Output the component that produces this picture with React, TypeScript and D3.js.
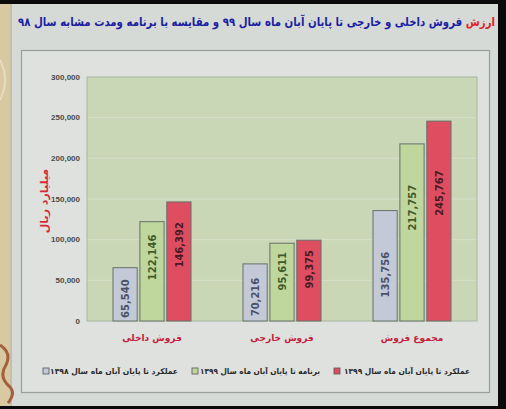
import React from "react";
import * as d3 from "d3";

const title = "ارزش فروش داخلی و خارجی تا پایان آبان ماه سال ۹۹ و مقایسه با برنامه ومدت مشابه سال ۹۸";
const titleRedWord = "ارزش";
const yAxisTitle = "میلیارد ریال";
const categories = ["فروش داخلی", "فروش خارجی", "مجموع فروش"];
const seriesNames = [
  "عملکرد تا پایان آبان ماه سال ۱۳۹۸",
  "برنامه تا پایان آبان ماه سال ۱۳۹۹",
  "عملکرد تا پایان آبان ماه سال ۱۳۹۹",
];
const perf1398 = [65540, 70216, 135756];
const plan1399 = [122146, 95611, 217757];
const perf1399 = [146392, 99375, 245767];
const yTicks = [0, 50000, 100000, 150000, 200000, 250000, 300000];

const seriesValues = [perf1398, plan1399, perf1399];
const fills = ["#c3c9d7", "#bfd79d", "#de4e60"];
const labelColors = ["#4b5268", "#3f5b2b", "#4a1a22"];
const labelFrac = [0.42, 0.64, 0.64];

const W = 506;
const H = 409;
const plot = { left: 87, right: 477, top: 77, bottom: 321 };

// legend layout: [series index, square left, text left, text right]
const legendLayout = [
  [2, 334, 344, 470],
  [1, 192, 200, 320],
  [0, 43, 50, 178],
];

export default function App() {
  const x0 = d3.scaleBand<string>().domain(categories).range([plot.left, plot.right]).padding(0);
  const x1 = d3
    .scaleBand<number>()
    .domain([0, 1, 2])
    .range([x0.bandwidth() * 0.2, x0.bandwidth() * 0.8])
    .paddingInner(0.1);
  const y = d3.scaleLinear().domain([0, 300000]).range([plot.bottom, plot.top]);
  const fmt = d3.format(",");

  return (
    <svg width={W} height={H} style={{ position: "absolute", left: 0, top: 0 }}>
      <rect x={0} y={0} width={W} height={H} fill="#0a0a0a" />
      <rect x={0} y={4} width={498} height={402} fill="#d6dad6" />
      <rect x={0} y={4} width={10} height={402} fill="#d9c9a3" />
      <rect x={10} y={4} width={2} height={402} fill="#c7bea6" />
      <path d="M0,345 q12,8 6,20 q-8,12 4,22 q6,6 -2,16" fill="none" stroke="#a4603c" strokeWidth={3} />
      <path d="M0,60 q10,20 0,40" fill="none" stroke="#e6dcc0" strokeWidth={2} />

      <text
        x={256.5}
        y={26}
        textAnchor="middle"
        textLength={477}
        lengthAdjust="spacingAndGlyphs"
        fontFamily="DejaVu Sans"
        fontWeight="bold"
        fontSize={12}
        fill="#1c1fa3"
      >
        <tspan fill="#e0242a">{titleRedWord}</tspan>
        {title.slice(titleRedWord.length)}
      </text>

      <rect x={21.5} y={50.5} width={468} height={342} fill="#dee1dd" stroke="#989e98" strokeWidth={1.2} />

      <rect x={plot.left} y={plot.top} width={plot.right - plot.left} height={plot.bottom - plot.top} fill="#c9d7b6" />
      {yTicks.slice(1, -1).map((t) => (
        <line key={t} x1={plot.left} x2={plot.right} y1={y(t)} y2={y(t)} stroke="#d6e0c8" strokeWidth={1} />
      ))}
      <rect
        x={plot.left}
        y={plot.top}
        width={plot.right - plot.left}
        height={plot.bottom - plot.top}
        fill="none"
        stroke="#a9b5a2"
        strokeWidth={1}
      />

      {yTicks.map((t) => (
        <text
          key={t}
          x={80}
          y={y(t)}
          dy="0.35em"
          textAnchor="end"
          fontFamily="Liberation Sans"
          fontWeight="bold"
          fontSize={8}
          fill="#4a4a4a"
        >
          {fmt(t)}
        </text>
      ))}

      <text
        transform={`translate(44,${(plot.top + plot.bottom) / 2 + 2}) rotate(-90)`}
        textAnchor="middle"
        dy="0.35em"
        fontFamily="DejaVu Sans"
        fontWeight="bold"
        fontSize={11}
        fill="#d8283a"
      >
        {yAxisTitle}
      </text>

      {categories.map((c, ci) => (
        <g key={c}>
          {seriesValues.map((vals, si) => {
            const v = vals[ci];
            const bx = (x0(c) as number) + (x1(si) as number);
            const bw = x1.bandwidth();
            const ly = y(v * labelFrac[si]);
            return (
              <g key={si}>
                <rect
                  x={bx}
                  y={y(v)}
                  width={bw}
                  height={y(0) - y(v)}
                  fill={fills[si]}
                  stroke="#66706a"
                  strokeWidth={1}
                />
                <text
                  transform={`translate(${bx + bw / 2},${ly}) rotate(-90)`}
                  textAnchor="middle"
                  dy="0.36em"
                  fontFamily="DejaVu Sans"
                  fontWeight="bold"
                  fontSize={10}
                  fill={labelColors[si]}
                >
                  {fmt(v)}
                </text>
              </g>
            );
          })}
          <text
            x={(x0(c) as number) + x0.bandwidth() / 2}
            y={338}
            dy="0.35em"
            textAnchor="middle"
            fontFamily="DejaVu Sans"
            fontWeight="bold"
            fontSize={9}
            fill="#c4203e"
          >
            {c}
          </text>
        </g>
      ))}

      {legendLayout.map(([s, sq, tl, tr]) => (
        <g key={s}>
          <rect x={sq} y={368} width={6} height={6} fill={fills[s]} stroke="#555" strokeWidth={0.8} />
          <text
            x={(tl + tr) / 2}
            y={371}
            dy="0.35em"
            textAnchor="middle"
            textLength={tr - tl}
            lengthAdjust="spacingAndGlyphs"
            fontFamily="DejaVu Sans"
            fontWeight="bold"
            fontSize={8}
            fill="#2a2a2a"
          >
            {seriesNames[s]}
          </text>
        </g>
      ))}
    </svg>
  );
}
